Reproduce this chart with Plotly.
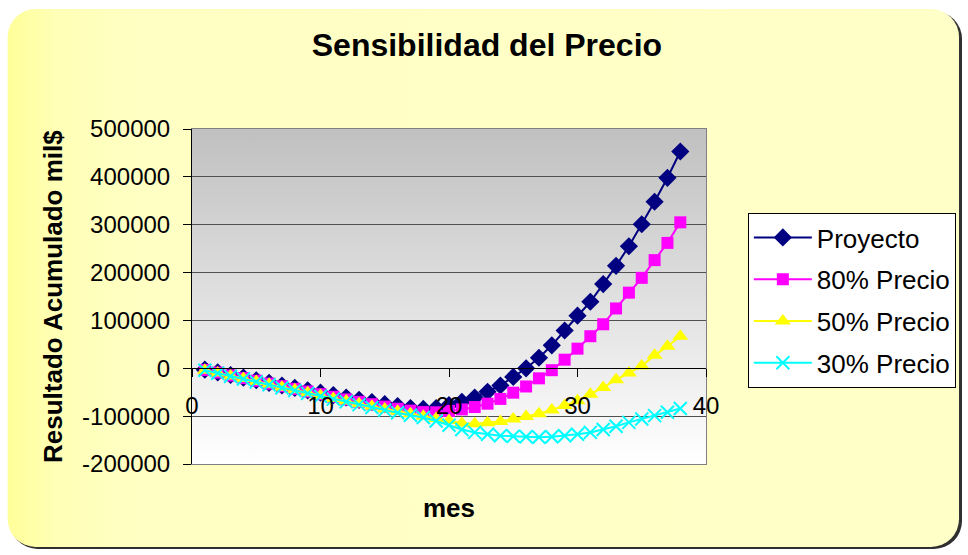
import base64
import plotly.graph_objects as go

# Monthly cumulative result (thousands of $) for each price scenario
months = list(range(1, 39))

proyecto = [-3000, -8500, -14000, -19500, -25000, -30500, -36000, -41000, -46000, -51000,
            -56000, -61000, -66000, -70500, -75000, -79000, -83000, -85000, -83000, -77000,
            -70000, -61000, -49000, -36000, -18000, 0, 22000, 48000, 79000, 110000,
            139000, 176000, 214000, 255000, 301000, 348000, 398000, 453000]

precio_80 = [-3500, -9000, -15000, -20500, -26000, -32000, -37500, -43000, -48500, -54000,
             -59500, -65000, -70000, -75000, -80000, -84500, -88500, -91500, -92000, -89000,
             -86000, -81000, -74000, -64000, -51000, -38000, -21000, -4000, 18000, 41000,
             67000, 92000, 125000, 158000, 189000, 226000, 262000, 305000]

precio_50 = [-4000, -10000, -16000, -21500, -27500, -33500, -39500, -45000, -51000, -57000,
             -63000, -68500, -74000, -79500, -85000, -90000, -95000, -100000, -105000, -109000,
             -115000, -116000, -114000, -111000, -106000, -101000, -95000, -87000, -78000, -68000,
             -54000, -40000, -24000, -10000, 5000, 27000, 46000, 67000]

precio_30 = [-4000, -10500, -16500, -22500, -28500, -34500, -40500, -46500, -52500, -58500,
             -64500, -70000, -76000, -82000, -87500, -93000, -98000, -103000, -110000, -119000,
             -128000, -134000, -138000, -141000, -142000, -143000, -144000, -143000, -141000, -138000,
             -134000, -128000, -121000, -113000, -106000, -99000, -92000, -84000]

series_names = ["Proyecto", "80% Precio", "50% Precio", "30% Precio"]

x_ticks = [0, 10, 20, 30, 40]
y_ticks = [-200000, -100000, 0, 100000, 200000, 300000, 400000, 500000]
y_tick_text = [str(v) for v in y_ticks]

# Figure geometry (pixels)
W, H = 968, 555
ML, MR, MT, MB = 192, 260, 129, 91
PW, PH = W - ML - MR, H - MT - MB
FONT = "Arial, Liberation Sans, sans-serif"


def svg_uri(svg):
    return "data:image/svg+xml;base64," + base64.b64encode(svg.encode()).decode()


# Pale yellow rounded chart background with a thin shadow edge
paper_svg = (
    f'<svg xmlns="http://www.w3.org/2000/svg" width="{W}" height="{H}" viewBox="0 0 {W} {H}">'
    '<defs><linearGradient id="p" x1="0" y1="0" x2="1" y2="0">'
    '<stop offset="0" stop-color="#FFFF99"/><stop offset="0.05" stop-color="#FFFFB6"/>'
    '<stop offset="0.14" stop-color="#FFFFC4"/><stop offset="1" stop-color="#FFFFC8"/>'
    '</linearGradient></defs>'
    '<rect x="9" y="11" width="956" height="538" rx="28" ry="28" fill="#303030"/>'
    '<rect x="7" y="9" width="955" height="538" rx="28" ry="28" fill="url(#p)"/>'
    '</svg>'
)

# Grey-to-white vertical gradient for the plotting area
plot_svg = (
    '<svg xmlns="http://www.w3.org/2000/svg" width="100" height="100" viewBox="0 0 100 100" '
    'preserveAspectRatio="none">'
    '<defs><linearGradient id="g" x1="0" y1="0" x2="0" y2="1">'
    '<stop offset="0" stop-color="#C0C0C0"/><stop offset="1" stop-color="#FFFFFF"/>'
    '</linearGradient></defs><rect width="100" height="100" fill="url(#g)"/></svg>'
)

fig = go.Figure()

styles = [
    dict(color="#000080", symbol="diamond", size=14),
    dict(color="#FF00FF", symbol="square", size=12),
    dict(color="#FFFF00", symbol="triangle-up", size=14),
    dict(color="#00FFFF", symbol="x-thin", size=13),
]

for name, values, st in zip(series_names, [proyecto, precio_80, precio_50, precio_30], styles):
    marker = dict(symbol=st["symbol"], size=st["size"], color=st["color"])
    if st["symbol"] == "x-thin":
        marker["line"] = dict(color=st["color"], width=2)
    else:
        marker["line"] = dict(width=0)
    fig.add_trace(go.Scatter(
        x=months, y=values, name=name, mode="lines+markers",
        line=dict(color=st["color"], width=2), marker=marker,
        legendgroup=name,
    ))

y_min, y_max = y_ticks[0], y_ticks[-1]

fig.update_layout(
    width=W, height=H, autosize=False,
    margin=dict(l=ML, r=MR, t=MT, b=MB, pad=0),
    paper_bgcolor="white",
    plot_bgcolor="rgba(0,0,0,0)",
    font=dict(family=FONT, color="black"),
    title=dict(text="<b>Sensibilidad del Precio</b>", font=dict(size=32, family=FONT),
               x=0.503, xref="container", xanchor="center",
               y=1 - 45 / H, yref="container", yanchor="middle"),
    xaxis=dict(range=[0, 40], tickvals=x_ticks, ticktext=[str(v) for v in x_ticks],
               showgrid=False, zeroline=False, showline=True, linecolor="black", linewidth=1,
               ticks="outside", ticklen=8, tickcolor="black", tickwidth=1,
               tickfont=dict(size=24), ticklabelstandoff=8,
               anchor="free", position=(0 - y_min) / (y_max - y_min)),
    yaxis=dict(range=[y_min, y_max], tickvals=y_ticks, ticktext=y_tick_text,
               showgrid=True, gridcolor="#505050", gridwidth=1, zeroline=False,
               showline=True, linecolor="black", linewidth=1,
               ticks="outside", ticklen=8, tickcolor="black", tickwidth=1,
               tickfont=dict(size=24), ticklabelstandoff=8),
    legend=dict(x=(750 - ML) / PW, y=(H - MB - 213) / PH, xanchor="left", yanchor="top",
                bgcolor="white", bordercolor="black", borderwidth=1,
                font=dict(size=26, family=FONT), tracegroupgap=5,
                itemwidth=58, itemclick=False),
    showlegend=True,
    images=[
        dict(source=svg_uri(paper_svg), xref="paper", yref="paper",
             x=-ML / PW, y=(H - MB) / PH, sizex=W / PW, sizey=H / PH,
             xanchor="left", yanchor="top", sizing="stretch", layer="below"),
        dict(source=svg_uri(plot_svg), xref="x domain", yref="y domain",
             x=0, y=1, sizex=1, sizey=1, xanchor="left", yanchor="top",
             sizing="stretch", layer="below"),
    ],
    shapes=[
        dict(type="rect", xref="x domain", yref="y domain", x0=0, x1=1, y0=0, y1=1,
             line=dict(color="#808080", width=2), fillcolor="rgba(0,0,0,0)", layer="below"),
    ],
    annotations=[
        dict(text="<b>mes</b>", xref="paper", yref="paper", x=0.5, y=-(508 - (H - MB)) / PH,
             xanchor="center", yanchor="middle", showarrow=False, font=dict(size=26)),
        dict(text="<b>Resultado Acumulado mil$</b>", textangle=-90, xref="paper", yref="paper",
             x=(52 - ML) / PW, y=0.5, xanchor="center", yanchor="middle",
             showarrow=False, font=dict(size=26)),
    ],
)

fig.write_html("out.html")
